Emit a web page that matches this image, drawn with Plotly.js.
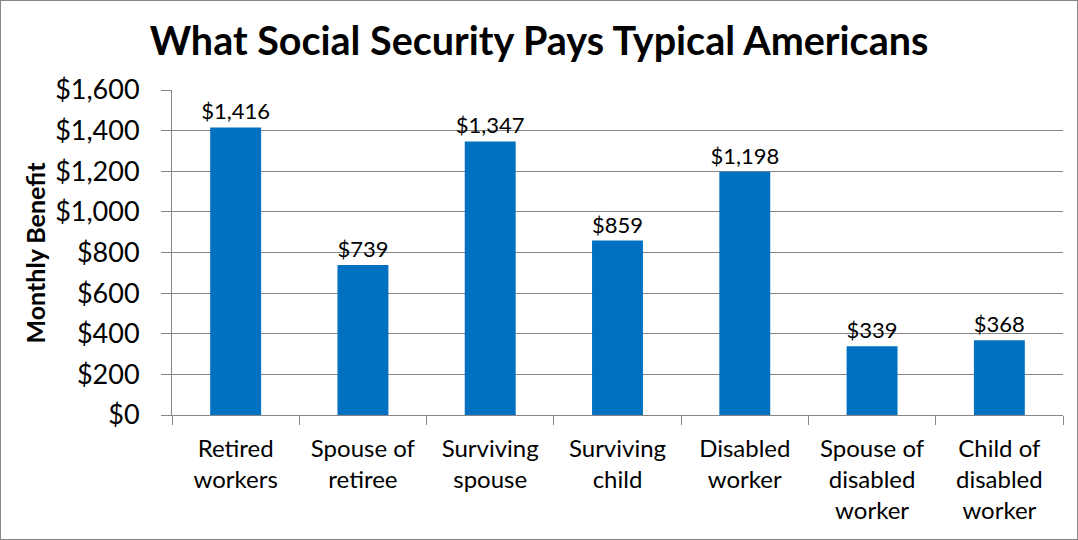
<!DOCTYPE html>
<html><head><meta charset="utf-8">
<script src="https://cdn.plot.ly/plotly-3.0.1.min.js"></script>
<style>html,body{margin:0;padding:0;background:#fff}#chart{width:1078px;height:540px;box-sizing:border-box;border:1px solid #868686}</style>
</head><body><div id="chart"></div>
<script>
const categories = ["Retired<br>workers","Spouse of<br>retiree","Surviving<br>spouse","Surviving<br>child","Disabled<br>worker","Spouse of<br>disabled<br>worker","Child of<br>disabled<br>worker"];
const benefits = [1416, 739, 1347, 859, 1198, 339, 368];
const yTicks = [0,200,400,600,800,1000,1200,1400,1600];
const yTickLabels = yTicks.map(v => "$" + v.toLocaleString("en-US"));
const FONT = "Lato, 'Open Sans', sans-serif";
const plotW = 1076 - 171 - 14;
Plotly.newPlot("chart", [{
  type: "bar", x: categories, y: benefits,
  marker: {color: "#0070C0"},
  text: benefits.map(v => "$" + v.toLocaleString("en-US")),
  textposition: "outside", cliponaxis: false, constraintext: "none",
  textfont: {family: FONT, size: 22, color: "#000"},
  hoverinfo: "none"
}], {
  width: 1076, height: 538,
  margin: {l: 171, r: 14, t: 89, b: 124, pad: 0},
  paper_bgcolor: "#fff", plot_bgcolor: "#fff",
  bargap: 0.6, showlegend: false,
  title: {text: "<b>What Social Security Pays Typical Americans</b>", x: 0.5, xanchor: "center", y: 0.925, yanchor: "middle", font: {family: FONT, size: 39.5, color: "#000"}},
  xaxis: {type: "category", tickfont: {family: FONT, size: 24, color: "#000"}, showline: true, linecolor: "#868686", linewidth: 1,
    ticks: "outside", ticklen: 9, tickcolor: "#868686", tickson: "boundaries", showgrid: false, automargin: false, ticklabelstandoff: 12},
  yaxis: {range: [0,1600], tickvals: yTicks, ticktext: yTickLabels, tickfont: {family: FONT, size: 27, color: "#000"},
    showgrid: true, gridcolor: "#868686", gridwidth: 1, showline: true, linecolor: "#868686", ticks: "outside", ticklen: 10, tickcolor: "#868686",
    zeroline: false, automargin: false, ticklabelstandoff: 16},
  annotations: [{text: "<b>Monthly Benefit</b>", xref: "paper", yref: "paper", x: (33 - 171) / plotW, y: 0.5,
    xanchor: "center", yanchor: "middle", textangle: -90, showarrow: false, font: {family: FONT, size: 25, color: "#000"}}]
}, {staticPlot: true});
</script></body></html>
